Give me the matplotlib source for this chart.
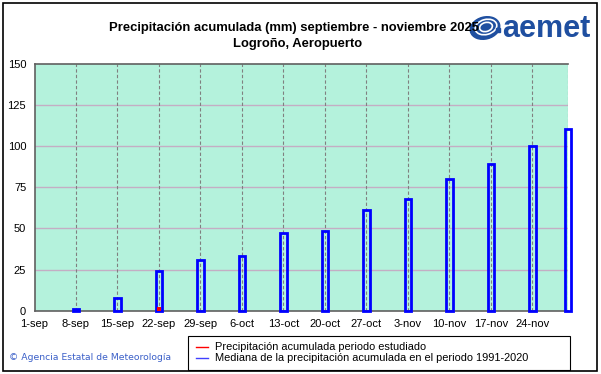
import matplotlib
matplotlib.use("Agg")
import matplotlib.pyplot as plt
from matplotlib.patches import Rectangle, Ellipse
from matplotlib.lines import Line2D

plt.rcParams['font.family'] = ['Liberation Sans', 'DejaVu Sans']

# Data
tick_days = [0, 7, 14, 21, 28, 35, 42, 49, 56, 63, 70, 77, 84]
tick_labels = ['1-sep', '8-sep', '15-sep', '22-sep', '29-sep', '6-oct', '13-oct',
               '20-oct', '27-oct', '3-nov', '10-nov', '17-nov', '24-nov']
median_days = [7, 14, 21, 28, 35, 42, 49, 56, 63, 70, 77, 84, 90]
median_values = [1, 7.5, 24, 31, 33.5, 47, 48.5, 61, 68, 80, 89, 100, 110.5]
observed_days = [7, 14, 21]
observed_values = [0, 0, 2.0]

W, H = 601, 374
fig = plt.figure(figsize=(W / 100, H / 100), dpi=100)
fig.patch.set_facecolor('white')

def fx(px):
    return px / W

def fy(py):
    return 1 - py / H

ax_left, ax_right, ax_top, ax_bottom = 34.5, 568, 64, 310.7
ax = fig.add_axes([fx(ax_left), fy(ax_bottom), fx(ax_right - ax_left), (ax_bottom - ax_top) / H])
ax.set_facecolor('#b4f2dc')
ax.set_xlim(0, 90)
ax.set_ylim(0, 150)

# grids
for y in [25, 50, 75, 100, 125]:
    ax.axhline(y, color='#c4aec4', lw=1.0, zorder=1)
for d in median_days:
    ax.axvline(d, color='#808080', lw=0.8, ls=(0, (3, 2)), zorder=1)

# median bars (outlined)
ax.bar(median_days, median_values, width=1.1, facecolor='none', edgecolor='#0000ff',
       linewidth=2.0, zorder=3, clip_on=False)
# observed bars (red, filled)
ax.bar(observed_days, observed_values, width=0.75, color='#ff0000', linewidth=0, zorder=5)

ax.set_yticks([0, 25, 50, 75, 100, 125, 150])
ax.set_yticklabels(['0', '25', '50', '75', '100', '125', '150'], fontsize=8)
ax.set_xticks(tick_days)
ax.set_xticklabels(tick_labels, fontsize=8)
ax.tick_params(length=0, pad=6)
ax.tick_params(axis='y', pad=6)
for s in ['top', 'left', 'bottom']:
    ax.spines[s].set_color('#606060')
    ax.spines[s].set_linewidth(1.2)
ax.spines['right'].set_visible(False)

# titles
fig.text(fx(294), fy(28), 'Precipitación acumulada (mm) septiembre - noviembre 2025',
         ha='center', va='center', fontsize=9.4, fontweight='bold')
fig.text(fx(298), fy(44), 'Logroño, Aeropuerto', ha='center', va='center',
         fontsize=9.4, fontweight='bold')

# logo
logo_ax = fig.add_axes([fx(468), fy(50), fx(132), 44 / H])
logo_ax.set_xlim(0, 132)
logo_ax.set_ylim(44, 0)
logo_ax.axis('off')
logo_ax.add_patch(Ellipse((17, 22), 30, 22, angle=-15, color='#1f4fa0'))
for w_, h_ in [(22, 15), (13, 9)]:
    logo_ax.add_patch(Ellipse((18, 21), w_, h_, angle=-15, fill=False, ec='white', lw=1.2))
logo_ax.plot([30], [24], marker='s', ms=2.5, color='#1f4fa0')
logo_ax.text(34, 23, 'aemet', ha='left', va='center', fontsize=22, fontweight='bold',
             color='#1f4fa0')

# copyright
fig.text(fx(9), fy(357), '© Agencia Estatal de Meteorología', ha='left', va='center',
         fontsize=6.7, color='#3a5fc8', family=['DejaVu Sans'])

# legend box
fig.patches.append(Rectangle((fx(188), fy(370)), fx(382), 34 / H, transform=fig.transFigure,
                             fill=False, ec='black', lw=0.8))
fig.add_artist(Line2D([fx(196), fx(208)], [fy(347), fy(347)], color='#ff0000', lw=1,
                      transform=fig.transFigure))
fig.add_artist(Line2D([fx(196), fx(208)], [fy(358), fy(358)], color='#4040ff', lw=1,
                      transform=fig.transFigure))
fig.text(fx(215), fy(347), 'Precipitación acumulada periodo estudiado', ha='left',
         va='center', fontsize=7.9)
fig.text(fx(215), fy(358), 'Mediana de la precipitación acumulada en el periodo 1991-2020',
         ha='left', va='center', fontsize=7.9)

# outer frame
fig.patches.append(Rectangle((fx(3), fy(371)), fx(594), 368 / H, transform=fig.transFigure,
                             fill=False, ec='black', lw=1.2))

fig.savefig('out.png', dpi=100)
